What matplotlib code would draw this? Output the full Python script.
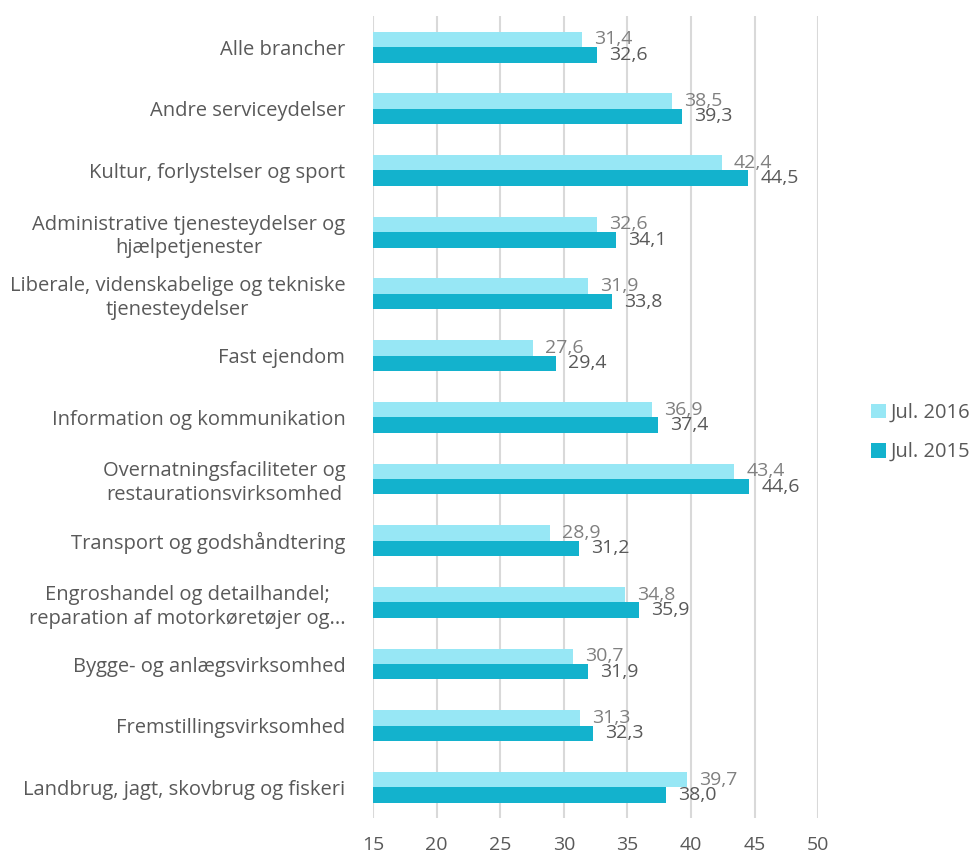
import matplotlib
matplotlib.use('Agg')
import matplotlib.pyplot as plt
import numpy as np

categories = [
    'Alle brancher',
    'Andre serviceydelser',
    'Kultur, forlystelser og sport',
    'Administrative tjenesteydelser og\nhjælpetjenester',
    'Liberale, videnskabelige og tekniske\ntjenesteydelser',
    'Fast ejendom',
    'Information og kommunikation',
    'Overnatningsfaciliteter og\nrestaurationsvirksomhed',
    'Transport og godshåndtering',
    'Engroshandel og detailhandel;\nreparation af motorkøretøjer og...',
    'Bygge- og anlægsvirksomhed',
    'Fremstillingsvirksomhed',
    'Landbrug, jagt, skovbrug og fiskeri',
]
jul_2016 = [31.4, 38.5, 42.4, 32.6, 31.9, 27.6, 36.9, 43.4, 28.9, 34.8, 30.7, 31.3, 39.7]
jul_2015 = [32.6, 39.3, 44.5, 34.1, 33.8, 29.4, 37.4, 44.6, 31.2, 35.9, 31.9, 32.3, 38.0]
xticks = [15, 20, 25, 30, 35, 40, 45, 50]

plt.rcParams['font.family'] = ['Open Sans', 'DejaVu Sans']

light = '#97e7f5'
dark = '#13b2cd'

fig = plt.figure(figsize=(9.74, 8.55), dpi=100)
ax = fig.add_axes([0.383, 0.043, 0.457, 0.938])

n = len(categories)
y = np.arange(n)
h = 0.25
ax.barh(y - h / 2, jul_2016, height=h, color=light, label='Jul. 2016', zorder=3)
ax.barh(y + h / 2, jul_2015, height=h, color=dark, label='Jul. 2015', zorder=3)

# data labels, comma as decimal sign
for i in range(n):
    ax.text(jul_2016[i] + 0.95, y[i] - h / 2, f'{jul_2016[i]:.1f}'.replace('.', ','),
            va='center', ha='left', fontsize=14, color='#808080', zorder=4)
    ax.text(jul_2015[i] + 0.95, y[i] + h / 2, f'{jul_2015[i]:.1f}'.replace('.', ','),
            va='center', ha='left', fontsize=14, color='#595959', zorder=4)

ax.set_xlim(15, 50)
ax.set_ylim(n - 0.5, -0.5)
ax.set_xticks(xticks)
ax.set_xticklabels([str(t) for t in xticks], fontsize=14, color='#595959')
ax.set_yticks(y)
ax.set_yticklabels(categories, fontsize=14.5, color='#595959', linespacing=1.25)
for lbl in ax.get_yticklabels():
    lbl.set_multialignment('center')
ax.tick_params(axis='both', length=0)
ax.tick_params(axis='x', pad=13)
ax.tick_params(axis='y', pad=20)
ax.grid(axis='x', color='#d9d9d9', linewidth=1.5, zorder=0)
for s in ax.spines.values():
    s.set_visible(False)

handles, labels = ax.get_legend_handles_labels()
fig.legend(handles, labels, loc='center left', bbox_to_anchor=(0.894, 0.494),
           frameon=False, fontsize=14.5, labelcolor='#595959',
           borderpad=0, borderaxespad=0,
           handlelength=0.75, handleheight=0.75, handletextpad=0.25, labelspacing=0.95)

fig.savefig('out.png', dpi=100)
